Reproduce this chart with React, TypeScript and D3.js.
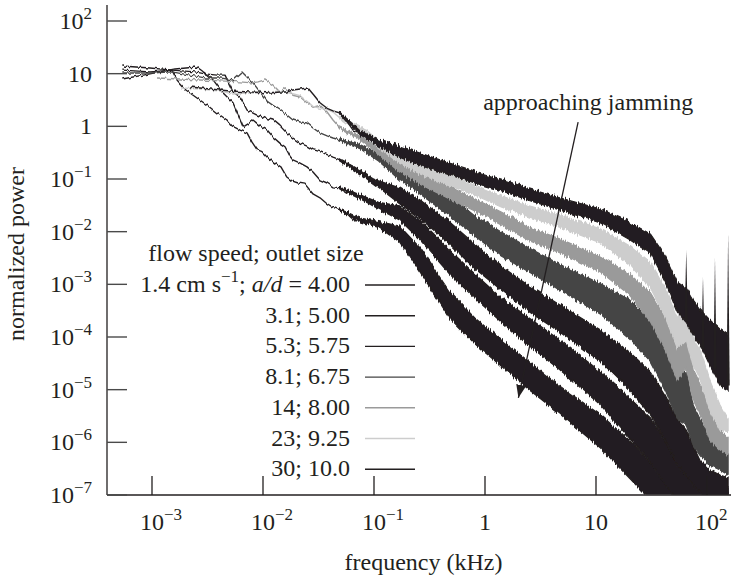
import React from "react";
import * as d3 from "d3";

const W = 732;
const H = 578;

// ---- series metadata (legend order) ----
const seriesLabels = ["1.4 cm s−1; a/d = 4.00", "3.1; 5.00", "5.3; 5.75", "8.1; 6.75", "14; 8.00", "23; 9.25", "30; 10.0"];
const seriesColors = ["#231f20", "#231f20", "#231f20", "#454545", "#9a9a9a", "#cdcdcd", "#231f20"];

// ---- axis ticks ----
const xTickValues = [1e-3, 1e-2, 1e-1, 1, 10, 100];
const xTickBase = ["10", "10", "10", "1", "10", "10"];
const xTickExp = ["−3", "−2", "−1", "", "", "2"];
const yTickValues = [1e2, 10, 1, 1e-1, 1e-2, 1e-3, 1e-4, 1e-5, 1e-6, 1e-7];
const yTickBase = ["10", "10", "1", "10", "10", "10", "10", "10", "10", "10"];
const yTickExp = ["2", "", "", "−1", "−2", "−3", "−4", "−5", "−6", "−7"];

// ---- low-frequency traces (kHz, normalized power) ----
const s1LineFreq = [5.4e-4, 9.6e-4, 1.51e-3, 1.68e-3, 2.02e-3, 2.54e-3, 3.13e-3, 3.85e-3, 4.74e-3, 5.26e-3, 6.21e-3, 7.18e-3, 7.96e-3, 8.83e-3, 9.8e-3, 0.0109, 0.0128, 0.0145, 0.0164, 0.0182, 0.0207, 0.0239, 0.0282, 0.0326, 0.037, 0.0427, 0.0494, 0.0572, 0.0648, 0.0748, 0.0847, 0.098, 0.113];
const s1LinePower = [11.7, 10.8, 11.7, 7.6, 4.9, 3.45, 2.54, 1.79, 1.32, 1.02, 0.85, 0.75, 0.5, 0.36, 0.33, 0.26, 0.2, 0.17, 0.109, 0.092, 0.084, 0.08, 0.052, 0.044, 0.035, 0.029, 0.026, 0.022, 0.017, 0.0167, 0.016, 0.0153, 0.014];

const s2LineFreq = [5.4e-4, 9.6e-4, 1.61e-3, 2.54e-3, 3.0e-3, 3.55e-3, 4.28e-3, 5.37e-3, 5.96e-3, 6.61e-3, 7.33e-3, 8.13e-3, 9.4e-3, 0.0109, 0.0123, 0.0142, 0.0158, 0.0175, 0.0186, 0.0216, 0.0249, 0.0282, 0.0326, 0.0378, 0.0427, 0.0494, 0.056, 0.0648, 0.0748, 0.0847, 0.098, 0.113];
const s2LinePower = [7.9, 9.9, 12.3, 13.4, 10.3, 7.6, 4.5, 2.8, 1.64, 0.97, 1.11, 1.32, 1.02, 0.85, 0.63, 0.48, 0.41, 0.27, 0.23, 0.2, 0.17, 0.136, 0.096, 0.084, 0.071, 0.068, 0.057, 0.054, 0.046, 0.04, 0.035, 0.031];

const s3LineFreq = [5.4e-4, 9.6e-4, 1.51e-3, 2.44e-3, 3.0e-3, 3.85e-3, 4.55e-3, 5.37e-3, 6.21e-3, 7.18e-3, 8.83e-3, 0.0104, 0.0123, 0.0142, 0.0164, 0.0186, 0.0216, 0.0249, 0.0282, 0.0326, 0.0378, 0.0427, 0.0494, 0.056, 0.0648, 0.0748, 0.0847, 0.098, 0.113];
const s3LinePower = [14.0, 12.8, 11.7, 10.8, 9.9, 9.4, 9.4, 4.5, 3.6, 2.04, 1.64, 1.44, 1.32, 1.02, 0.75, 0.6, 0.48, 0.42, 0.36, 0.33, 0.29, 0.26, 0.23, 0.2, 0.17, 0.136, 0.114, 0.096, 0.08];

const s4LineFreq = [5.4e-4, 9.6e-4, 1.51e-3, 2.2e-3, 3.0e-3, 4.1e-3, 5.37e-3, 6.47e-3, 7.33e-3, 8.13e-3, 9.4e-3, 0.0109, 0.0123, 0.0142, 0.0164, 0.0186, 0.0216, 0.0249, 0.0282, 0.0326, 0.0378, 0.0427, 0.0494, 0.0572, 0.0648, 0.0748, 0.0847, 0.098, 0.113];
const s4LinePower = [10.3, 10.3, 10.8, 9.4, 8.3, 8.3, 7.6, 10.8, 8.3, 6.7, 4.5, 3.0, 2.5, 2.04, 1.64, 1.32, 1.21, 1.16, 0.93, 0.75, 0.66, 0.6, 0.55, 0.48, 0.44, 0.41, 0.36, 0.33, 0.25];

const s5LineFreq = [1.11e-3, 1.79e-3, 2.71e-3, 4.1e-3, 6.21e-3, 7.96e-3, 9.02e-3, 0.0104, 0.0123, 0.0142, 0.0158, 0.0186, 0.0216, 0.0249, 0.0282, 0.0326, 0.0378, 0.0427, 0.0494, 0.0572, 0.0648, 0.0748, 0.0847, 0.098, 0.113];
const s5LinePower = [8.3, 7.9, 7.6, 7.3, 7.0, 6.7, 7.0, 7.6, 6.1, 4.5, 5.4, 3.9, 3.6, 2.8, 2.3, 2.5, 1.87, 1.32, 0.93, 0.78, 0.72, 0.6, 0.48, 0.42, 0.33];

const s6LineFreq = [1.83e-3, 2.71e-3, 4.1e-3, 5.37e-3, 7.03e-3, 9.4e-3, 0.0116, 0.0142, 0.0175, 0.0216, 0.0249, 0.0282, 0.0326, 0.0378, 0.0427, 0.0494, 0.056, 0.0648, 0.0748, 0.0847, 0.098, 0.113];
const s6LinePower = [5.35, 5.1, 4.7, 4.1, 4.3, 4.3, 4.5, 4.7, 4.3, 3.8, 3.0, 2.4, 2.2, 2.1, 1.87, 1.44, 1.16, 1.02, 0.93, 0.85, 0.66, 0.44];

const s7LineFreq = [2.2e-3, 3.33e-3, 5.04e-3, 7.64e-3, 0.0116, 0.0142, 0.0164, 0.0186, 0.0216, 0.0254, 0.0288, 0.0326, 0.0378, 0.0427, 0.0494, 0.056, 0.0648, 0.0748, 0.0865, 0.098, 0.113];
const s7LinePower = [5.6, 5.1, 4.7, 4.5, 4.3, 4.5, 4.5, 4.9, 5.1, 5.35, 3.9, 2.8, 2.2, 1.96, 1.79, 1.32, 0.85, 0.75, 0.69, 0.55, 0.48];

// ---- high-frequency noise bands: upper / lower envelopes on a shared frequency grid ----
const bandFreq = [0.049, 0.075, 0.11, 0.17, 0.26, 0.48, 0.81, 1.4, 2.5, 4.7, 11, 20, 31, 42, 54, 65, 75, 87, 106, 131, 155];

const s1BandHi = [0.027, 0.0182, 0.0156, 0.0128, 4.9e-3, 7.2e-4, 2.3e-4, 8.8e-5, 3.4e-5, 1.18e-5, 3.3e-6, 1.1e-6, 4.2e-7, 1.8e-7, 1.25e-7, 1.14e-7, 1.14e-7, 1.14e-7, 1.14e-7, 1.14e-7, 1.14e-7];
const s1BandLo = [0.025, 0.0153, 0.012, 6.4e-3, 1.72e-3, 2.3e-4, 7.4e-5, 2.8e-5, 9.9e-6, 3.5e-6, 7.8e-7, 2.1e-7, 8e-8, 8e-8, 8e-8, 8e-8, 8e-8, 8e-8, 8e-8, 8e-8, 8e-8];

const s2BandHi = [0.071, 0.05, 0.036, 0.031, 0.0167, 4.5e-3, 1.57e-3, 5.5e-4, 2.3e-4, 8.8e-5, 2.2e-5, 7.0e-6, 2.9e-6, 1.1e-6, 3.7e-7, 2.4e-7, 1.8e-7, 1.55e-7, 1.4e-7, 1.36e-7, 1.36e-7];
const s2BandLo = [0.065, 0.042, 0.027, 0.0167, 7.0e-3, 1.57e-3, 5.5e-4, 1.93e-4, 6.8e-5, 2.4e-5, 5.1e-6, 1.2e-6, 4.2e-7, 1.55e-7, 8e-8, 8e-8, 8e-8, 8e-8, 8e-8, 8e-8, 8e-8];

const s3BandHi = [0.24, 0.148, 0.092, 0.068, 0.04, 0.0153, 5.8e-3, 2.2e-3, 9.3e-4, 4.1e-4, 1.36e-4, 5.2e-5, 2.2e-5, 7.9e-6, 2.7e-6, 1.7e-6, 8.9e-7, 4.6e-7, 3.0e-7, 2.4e-7, 2.1e-7];
const s3BandLo = [0.22, 0.125, 0.07, 0.034, 0.018, 5.8e-3, 2.0e-3, 7.8e-4, 3.0e-4, 1.25e-4, 3.4e-5, 9.9e-6, 3.3e-6, 1.1e-6, 3.7e-7, 2.4e-7, 1.55e-7, 1.1e-7, 8e-8, 8e-8, 8e-8];

const s4BandHi = [0.575, 0.45, 0.29, 0.177, 0.105, 0.048, 0.0199, 9.9e-3, 4.9e-3, 2.4e-3, 1.02e-3, 5.1e-4, 2.1e-4, 7.1e-5, 1.9e-5, 2.2e-5, 5.1e-6, 2.7e-6, 1.1e-6, 7.2e-7, 5.8e-7];
const s4BandLo = [0.525, 0.376, 0.22, 0.096, 0.052, 0.0199, 8.3e-3, 3.45e-3, 1.72e-3, 7.8e-4, 2.7e-4, 9.6e-5, 3.4e-5, 9.9e-6, 2.7e-6, 2.1e-6, 8.9e-7, 5.8e-7, 3.7e-7, 3.0e-7, 2.4e-7];

const s5BandHi = [0.97, 0.65, 0.38, 0.23, 0.136, 0.071, 0.042, 0.0236, 0.0122, 7.3e-3, 3.4e-3, 1.57e-3, 6.9e-4, 2.3e-4, 7.1e-5, 1.36e-4, 2.4e-5, 1.23e-5, 4.1e-6, 1.7e-6, 1.2e-6];
const s5BandLo = [0.89, 0.55, 0.29, 0.136, 0.08, 0.042, 0.0247, 0.0134, 6.7e-3, 4.0e-3, 1.71e-3, 6.3e-4, 1.93e-4, 5.7e-5, 1.53e-5, 2.6e-5, 6.4e-6, 3.3e-6, 1.1e-6, 7.2e-7, 5.8e-7];

const s6BandHi = [1.5, 1.01, 0.5, 0.31, 0.2, 0.114, 0.077, 0.048, 0.031, 0.021, 0.0112, 5.4e-3, 2.5e-3, 8.5e-4, 2.3e-4, 5.1e-4, 9.6e-5, 5.7e-5, 1.5e-5, 5.1e-6, 2.7e-6];
const s6BandLo = [1.38, 0.85, 0.39, 0.2, 0.1245, 0.074, 0.05, 0.0295, 0.019, 0.0122, 6.1e-3, 2.4e-3, 8.5e-4, 2.4e-4, 6.2e-5, 8.8e-5, 2.9e-5, 1.5e-5, 4.1e-6, 1.7e-6, 1.6e-6];

const s7BandHi = [1.87, 0.82, 0.55, 0.42, 0.31, 0.2, 0.142, 0.1, 0.065, 0.044, 0.027, 0.0153, 9.0e-3, 3.5e-3, 1.1e-3, 8.5e-4, 5.1e-4, 3.3e-4, 2.1e-4, 1.4e-4, 1.1e-4];
const s7BandLo = [1.71, 0.69, 0.42, 0.26, 0.18, 0.119, 0.084, 0.06, 0.039, 0.026, 0.0146, 7.1e-3, 3.8e-3, 1.1e-3, 3.0e-4, 1.9e-4, 1.1e-4, 7.1e-5, 2.9e-5, 1.2e-5, 9.9e-6];

// resonance spikes of the fastest flow
const spikeFreq = [65, 92, 118, 155];
const spikeTop = [4.5e-3, 1.4e-3, 3.2e-3, 9.4e-3];
const spikeBase = [2e-4, 6e-5, 2.5e-5, 1.2e-5];

// annotation (data coordinates)
const arrowFrom = [6.9, 1.2];
const arrowTo = [2.0, 7e-6];
const annotationPos = [8.5, 2.04];

const lineFreqs = [s1LineFreq, s2LineFreq, s3LineFreq, s4LineFreq, s5LineFreq, s6LineFreq, s7LineFreq];
const linePowers = [s1LinePower, s2LinePower, s3LinePower, s4LinePower, s5LinePower, s6LinePower, s7LinePower];
const bandHis = [s1BandHi, s2BandHi, s3BandHi, s4BandHi, s5BandHi, s6BandHi, s7BandHi];
const bandLos = [s1BandLo, s2BandLo, s3BandLo, s4BandLo, s5BandLo, s6BandLo, s7BandLo];

const FONT = "'Liberation Serif', 'Times New Roman', serif";
const INK = "#231f20";

export default function App() {
  const x = d3.scaleLog().domain([1e-3, 1e2]).range([152, 707]);
  const y = d3.scaleLog().domain([1e-7, 1e2]).range([495, 21]);

  const line = d3
    .line<[number, number]>()
    .x((d) => x(d[0]))
    .y((d) => y(d[1]));

  const mkArea = (hi: number[], lo: number[]) =>
    d3
      .area<number>()
      .x((f) => x(f))
      .y0((_, i) => y(lo[i]))
      .y1((_, i) => y(hi[i]))(bandFreq) as string;

  const axisX0 = 107;
  const axisX1 = 731;
  const axisY = 495;
  const axisTop = 5;

  const legendRight = 350;
  const legendLineX0 = 365;
  const legendLineX1 = 415;
  const legendRow0 = 292;
  const legendStep = 30.7;

  return (
    <svg width={W} height={H} style={{ display: "block", position: "absolute", left: 0, top: 0, background: "#fff" }} fontFamily={FONT}>
      <defs>
        <clipPath id="plot">
          <rect x={axisX0 + 0.6} y={0} width={W - axisX0} height={axisY - 0.6} />
        </clipPath>
        <filter id="jag" filterUnits="userSpaceOnUse" x={100} y={0} width={640} height={500}>
          <feTurbulence type="fractalNoise" baseFrequency="0.75 0.025" numOctaves={1} seed={7} result="t" />
          <feColorMatrix in="t" type="matrix" values="0 0 0 0 0.5  0 1 0 0 0  0 0 0 0 0  0 0 0 0 1" result="m" />
          <feDisplacementMap in="SourceGraphic" in2="m" scale={8} xChannelSelector="R" yChannelSelector="G" />
        </filter>
        <filter id="jagLine" filterUnits="userSpaceOnUse" x={100} y={0} width={640} height={500}>
          <feTurbulence type="fractalNoise" baseFrequency="0.45 0.03" numOctaves={1} seed={3} result="t" />
          <feColorMatrix in="t" type="matrix" values="0 0 0 0 0.5  0 1 0 0 0  0 0 0 0 0  0 0 0 0 1" result="m" />
          <feDisplacementMap in="SourceGraphic" in2="m" scale={5} xChannelSelector="R" yChannelSelector="G" />
        </filter>
        <marker id="ahead" markerUnits="userSpaceOnUse" markerWidth={14} markerHeight={12} refX={13} refY={5} orient="auto">
          <path d="M0,0 L13,5 L0,10 z" fill={INK} />
        </marker>
      </defs>

      {/* data */}
      <g clipPath="url(#plot)">
        {seriesColors.map((c, s) => (
          <g key={s}>
            <path d={mkArea(bandHis[s], bandLos[s])} fill={c} stroke={c} strokeWidth={1.2} filter="url(#jag)" />
            <path
              d={line(lineFreqs[s].map((f, i) => [f, linePowers[s][i]] as [number, number])) as string}
              fill="none"
              stroke={c}
              strokeWidth={1.4}
              strokeLinejoin="round"
              filter="url(#jagLine)"
            />
          </g>
        ))}
        {spikeFreq.map((f, i) => (
          <path
            key={i}
            d={`M${x(f) - 1.6},${y(spikeBase[i])}L${x(f)},${y(spikeTop[i])}L${x(f) + 1.6},${y(spikeBase[i])}Z`}
            fill={INK}
          />
        ))}
      </g>

      {/* axes */}
      <line x1={axisX0} x2={axisX0} y1={axisTop} y2={axisY} stroke={INK} strokeWidth={1.3} />
      <line x1={axisX0} x2={axisX1} y1={axisY} y2={axisY} stroke={INK} strokeWidth={1.3} />
      {yTickValues.map((v, i) => (
        <g key={"yt" + i}>
          <line x1={axisX0} x2={axisX0 + 20} y1={y(v)} y2={y(v)} stroke="#4a4a4a" strokeWidth={1.4} />
          <text x={92} y={y(v) + 8} textAnchor="end" fontSize={24} fill={INK}>
            {yTickBase[i]}
            {yTickExp[i] && (
              <tspan dy={-10} fontSize={17}>
                {yTickExp[i]}
              </tspan>
            )}
          </text>
        </g>
      ))}
      {xTickValues.map((v, i) => (
        <g key={"xt" + i}>
          <line x1={x(v)} x2={x(v)} y1={axisY} y2={axisY - 19} stroke={INK} strokeWidth={1.3} />
          <text x={x(v) - xTickBase[i].length * 6} y={530} fontSize={24} fill={INK}>
            {xTickBase[i]}
            {xTickExp[i] && (
              <tspan dy={-10} fontSize={17}>
                {xTickExp[i]}
              </tspan>
            )}
          </text>
        </g>
      ))}
      <text x={423.5} y={570} textAnchor="middle" fontSize={24} fill={INK}>
        frequency (kHz)
      </text>
      <text transform="translate(24,254) rotate(-90)" textAnchor="middle" fontSize={24} fill={INK}>
        normalized power
      </text>

      {/* legend */}
      <text x={256} y={261} textAnchor="middle" fontSize={24} fill={INK}>
        flow speed; outlet size
      </text>
      {seriesLabels.map((lab, i) => {
        const by = legendRow0 + i * legendStep;
        return (
          <g key={"lg" + i}>
            {i === 0 ? (
              <text x={legendRight} y={by} textAnchor="end" fontSize={24} fill={INK}>
                1.4 cm s
                <tspan dy={-10} fontSize={17}>
                  −1
                </tspan>
                <tspan dy={10}>; </tspan>
                <tspan fontStyle="italic">a</tspan>
                <tspan fontStyle="italic">/</tspan>
                <tspan fontStyle="italic">d</tspan> = 4.00
              </text>
            ) : (
              <text x={legendRight} y={by} textAnchor="end" fontSize={24} fill={INK}>
                {lab}
              </text>
            )}
            <line x1={legendLineX0} x2={legendLineX1} y1={by - 7} y2={by - 7} stroke={seriesColors[i]} strokeWidth={1.4} />
          </g>
        );
      })}

      {/* annotation */}
      <text x={x(annotationPos[0])} y={y(annotationPos[1])} textAnchor="middle" fontSize={24} fill={INK}>
        approaching jamming
      </text>
      <line
        x1={x(arrowFrom[0])}
        y1={y(arrowFrom[1])}
        x2={x(arrowTo[0])}
        y2={y(arrowTo[1])}
        stroke={INK}
        strokeWidth={1.3}
        markerEnd="url(#ahead)"
      />
    </svg>
  );
}
